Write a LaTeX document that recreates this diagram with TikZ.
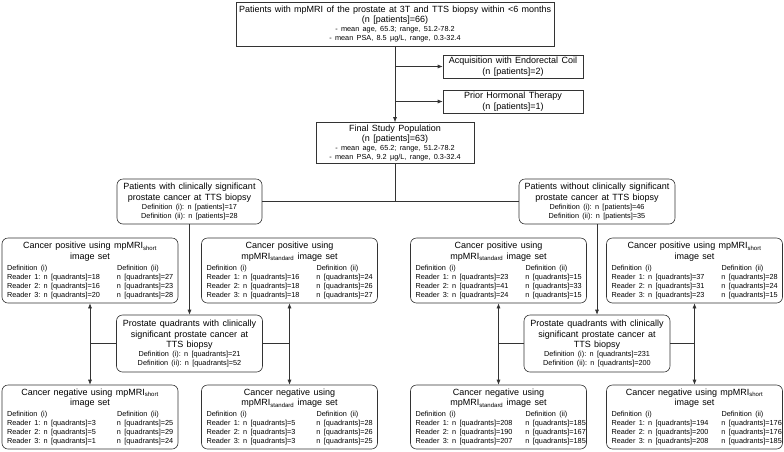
\documentclass[tikz,border=0pt]{standalone}
\usepackage{fontspec}
\setmainfont{Liberation Sans}
\usetikzlibrary{arrows.meta}
\frenchspacing
\newcommand\myT[1]{{\fontsize{9}{10.5}\selectfont #1\par}}
\newcommand\myS[1]{{\fontsize{7.3}{8.9}\selectfont #1\par}}
\newcommand\myRow[2]{{\fontsize{7.3}{8.9}\selectfont\makebox[110pt][l]{#1}\makebox[56pt][l]{#2}\par}}
\begin{document}
\begin{tikzpicture}[x=1pt,y=-1pt,
  bx/.style={draw=black!80, line width=0.6pt, fill=white, align=center, inner xsep=5pt, inner ysep=1pt},
  rbx/.style={bx, rounded corners=6pt},
  cb/.style={rbx, text width=166pt, minimum width=176pt, minimum height=65pt},
  qb/.style={rbx, text width=136pt, minimum width=146pt, minimum height=57pt},
  ln/.style={draw=black!80, line width=0.6pt},
  ar/.style={ln, -{Latex[length=5pt,width=4pt]}},
  ar2/.style={ln, {Latex[length=5pt,width=4pt]}-{Latex[length=5pt,width=4pt]}}]
\useasboundingbox (0,0) rectangle (784,451);

\node[bx, inner xsep=3pt, text width=312pt, minimum width=318pt, minimum height=44pt] (top) at (395,24)
  {\myT{\mbox{Patients with mpMRI of the prostate at 3T and TTS biopsy within <6 months}}\myT{(n [patients]=66)}\myS{- mean age, 65.3; range, 51.2-78.2}\myS{- mean PSA, 8.5 µg/L, range, 0.3-32.4}};
\node[bx, inner xsep=3pt, text width=134pt, minimum width=140pt, minimum height=23pt] (acq) at (513,66.5)
  {\myT{\mbox{Acquisition with Endorectal Coil}}\myT{(n [patients]=2)}};
\node[bx, inner xsep=3pt, text width=134pt, minimum width=140pt, minimum height=23pt] (prior) at (513,101.5)
  {\myT{Prior Hormonal Therapy}\myT{(n [patients]=1)}};
\node[bx, text width=148pt, minimum width=158pt, minimum height=41pt] (final) at (395,143)
  {\myT{Final Study Population}\myT{(n [patients]=63)}\myS{- mean age, 65.2; range, 51.2-78.2}\myS{- mean PSA, 9.2 µg/L, range, 0.3-32.4}};

\node[rbx, text width=135pt, minimum width=145pt, minimum height=45pt] (pw) at (189.5,201.5)
  {\myT{Patients with clinically significant}\myT{prostate cancer at TTS biopsy}\myS{Definition (i): n [patients]=17}\myS{Definition (ii): n [patients]=28}};
\node[rbx, text width=146pt, minimum width=156pt, minimum height=45pt] (pwo) at (597,201.5)
  {\myT{Patients without clinically significant}\myT{prostate cancer at TTS biopsy}\myS{Definition (i): n [patients]=46}\myS{Definition (ii): n [patients]=35}};

\node[cb] (lps) at (90,270.5)
  {\myT{Cancer positive using mpMRI\textsubscript{short}}\myT{image set}\vspace{2pt}
   \myRow{Definition (i)}{Definition (ii)}\myRow{Reader 1: n [quadrants]=18}{n [quadrants]=27}\myRow{Reader 2: n [quadrants]=16}{n [quadrants]=23}\myRow{Reader 3: n [quadrants]=20}{n [quadrants]=28}};
\node[cb] (lpd) at (289.5,270.5)
  {\myT{Cancer positive using}\myT{mpMRI\textsubscript{standard} image set}\vspace{2pt}
   \myRow{Definition (i)}{Definition (ii)}\myRow{Reader 1: n [quadrants]=16}{n [quadrants]=24}\myRow{Reader 2: n [quadrants]=18}{n [quadrants]=26}\myRow{Reader 3: n [quadrants]=18}{n [quadrants]=27}};
\node[cb] (rpd) at (498.5,270.5)
  {\myT{Cancer positive using}\myT{mpMRI\textsubscript{standard} image set}\vspace{2pt}
   \myRow{Definition (i)}{Definition (ii)}\myRow{Reader 1: n [quadrants]=23}{n [quadrants]=15}\myRow{Reader 2: n [quadrants]=41}{n [quadrants]=33}\myRow{Reader 3: n [quadrants]=24}{n [quadrants]=15}};
\node[cb] (rps) at (694.5,270.5)
  {\myT{Cancer positive using mpMRI\textsubscript{short}}\myT{image set}\vspace{2pt}
   \myRow{Definition (i)}{Definition (ii)}\myRow{Reader 1: n [quadrants]=37}{n [quadrants]=28}\myRow{Reader 2: n [quadrants]=31}{n [quadrants]=24}\myRow{Reader 3: n [quadrants]=23}{n [quadrants]=15}};

\node[qb] (lq) at (189.5,343.5)
  {\myT{Prostate quadrants with clinically}\myT{significant prostate cancer at}\myT{TTS biopsy}\myS{Definition (i): n [quadrants]=21}\myS{Definition (ii): n [quadrants]=52}};
\node[qb] (rq) at (597,343.5)
  {\myT{Prostate quadrants with clinically}\myT{significant prostate cancer at}\myT{TTS biopsy}\myS{Definition (i): n [quadrants]=231}\myS{Definition (ii): n [quadrants]=200}};

\node[cb, minimum height=64pt] (lns) at (90,417)
  {\myT{Cancer negative using mpMRI\textsubscript{short}}\myT{image set}\vspace{2pt}
   \myRow{Definition (i)}{Definition (ii)}\myRow{Reader 1: n [quadrants]=3}{n [quadrants]=25}\myRow{Reader 2: n [quadrants]=5}{n [quadrants]=29}\myRow{Reader 3: n [quadrants]=1}{n [quadrants]=24}};
\node[cb, minimum height=64pt] (lnd) at (289.5,417)
  {\myT{Cancer negative using}\myT{mpMRI\textsubscript{standard} image set}\vspace{2pt}
   \myRow{Definition (i)}{Definition (ii)}\myRow{Reader 1: n [quadrants]=5}{n [quadrants]=28}\myRow{Reader 2: n [quadrants]=3}{n [quadrants]=26}\myRow{Reader 3: n [quadrants]=3}{n [quadrants]=25}};
\node[cb, minimum height=64pt] (rnd) at (498.5,417)
  {\myT{Cancer negative using}\myT{mpMRI\textsubscript{standard} image set}\vspace{2pt}
   \myRow{Definition (i)}{Definition (ii)}\myRow{Reader 1: n [quadrants]=208}{n [quadrants]=185}\myRow{Reader 2: n [quadrants]=190}{n [quadrants]=167}\myRow{Reader 3: n [quadrants]=207}{n [quadrants]=185}};
\node[cb, minimum height=64pt] (rns) at (694.5,417)
  {\myT{Cancer negative using mpMRI\textsubscript{short}}\myT{image set}\vspace{2pt}
   \myRow{Definition (i)}{Definition (ii)}\myRow{Reader 1: n [quadrants]=194}{n [quadrants]=176}\myRow{Reader 2: n [quadrants]=200}{n [quadrants]=176}\myRow{Reader 3: n [quadrants]=208}{n [quadrants]=185}};

% connectors
\draw[ar] (top.south) -- (final.north);
\draw[ar] (final.north |- acq.west) -- (acq.west);
\draw[ar] (final.north |- prior.west) -- (prior.west);
\draw[ln] (final.south) -- (final.south |- pw.east);
\draw[ln] (pw.east) -- (pwo.west);
\draw[ar] (pw.south) -- (lq.north);
\draw[ar] (pwo.south) -- (rq.north);
\draw[ar2] (lps.south) -- (lns.north);
\draw[ar2] (lpd.south) -- (lnd.north);
\draw[ar2] (rpd.south) -- (rnd.north);
\draw[ar2] (rps.south) -- (rns.north);
\draw[ln] (lq.west) -- (lq.west -| lps.south);
\draw[ln] (lq.east) -- (lq.east -| lpd.south);
\draw[ln] (rq.west) -- (rq.west -| rpd.south);
\draw[ln] (rq.east) -- (rq.east -| rps.south);
\end{tikzpicture}
\end{document}
